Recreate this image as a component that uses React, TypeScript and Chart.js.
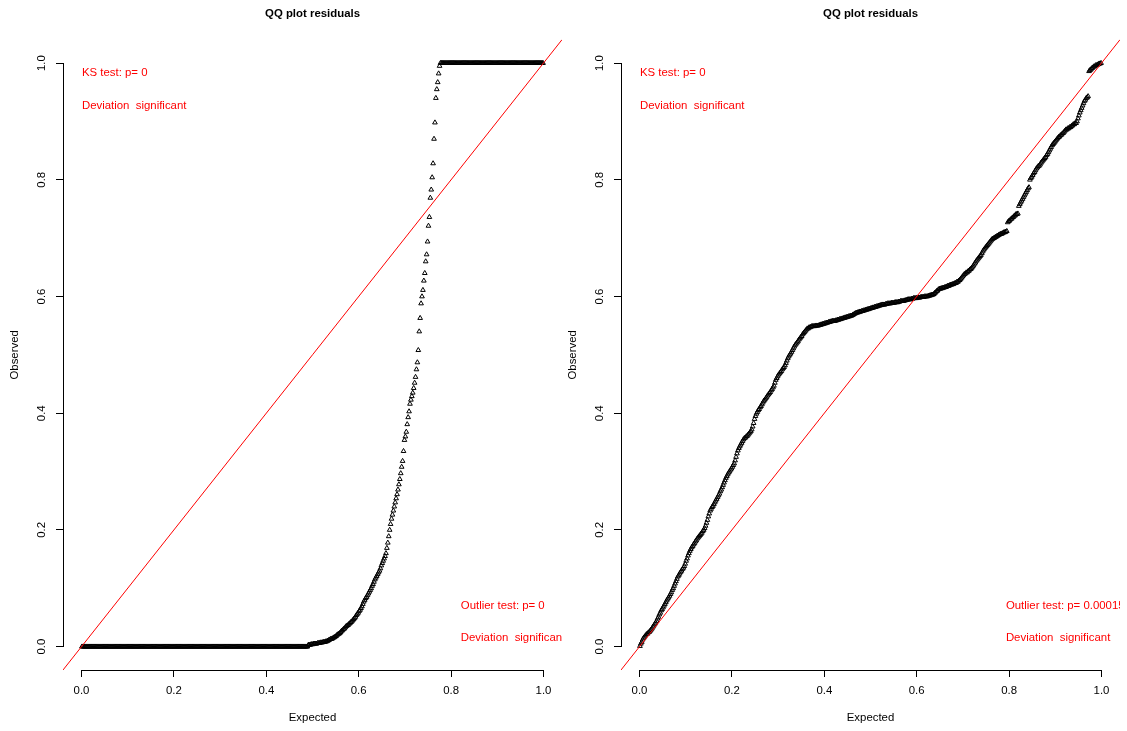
import React, { useEffect, useRef } from "react";
import { Chart, registerables } from "chart.js";

Chart.register(...registerables);

// ---- data -------------------------------------------------------------
const axisTicks = [0, 0.2, 0.4, 0.6, 0.8, 1];
const tickLabels = ["0.0", "0.2", "0.4", "0.6", "0.8", "1.0"];
const identityLine = [-0.1, 1.1]; // abline(0, 1)

// sorted scaled residuals, left model (n = 500)
const leftObserved = [
  0, 0, 0, 0, 0, 0, 0, 0, 0, 0,
  0, 0, 0, 0, 0, 0, 0, 0, 0, 0,
  0, 0, 0, 0, 0, 0, 0, 0, 0, 0,
  0, 0, 0, 0, 0, 0, 0, 0, 0, 0,
  0, 0, 0, 0, 0, 0, 0, 0, 0, 0,
  0, 0, 0, 0, 0, 0, 0, 0, 0, 0,
  0, 0, 0, 0, 0, 0, 0, 0, 0, 0,
  0, 0, 0, 0, 0, 0, 0, 0, 0, 0,
  0, 0, 0, 0, 0, 0, 0, 0, 0, 0,
  0, 0, 0, 0, 0, 0, 0, 0, 0, 0,
  0, 0, 0, 0, 0, 0, 0, 0, 0, 0,
  0, 0, 0, 0, 0, 0, 0, 0, 0, 0,
  0, 0, 0, 0, 0, 0, 0, 0, 0, 0,
  0, 0, 0, 0, 0, 0, 0, 0, 0, 0,
  0, 0, 0, 0, 0, 0, 0, 0, 0, 0,
  0, 0, 0, 0, 0, 0, 0, 0, 0, 0,
  0, 0, 0, 0, 0, 0, 0, 0, 0, 0,
  0, 0, 0, 0, 0, 0, 0, 0, 0, 0,
  0, 0, 0, 0, 0, 0, 0, 0, 0, 0,
  0, 0, 0, 0, 0, 0, 0, 0, 0, 0,
  0, 0, 0, 0, 0, 0, 0, 0, 0, 0,
  0, 0, 0, 0, 0, 0, 0, 0, 0, 0,
  0, 0, 0, 0, 0, 0, 0, 0, 0, 0,
  0, 0, 0, 0, 0, 0, 0, 0, 0, 0,
  0, 0, 0, 0, 0,
  0.003, 0.003, 0.003, 0.004, 0.004, 0.004, 0.005, 0.005, 0.005, 0.005,
  0.006, 0.006, 0.006, 0.007, 0.007, 0.007, 0.008, 0.008, 0.008, 0.009,
  0.009, 0.010, 0.011, 0.012, 0.013, 0.013, 0.014, 0.015, 0.016, 0.017,
  0.018, 0.020, 0.021, 0.022, 0.023, 0.025, 0.027, 0.028, 0.030, 0.031,
  0.033, 0.035, 0.036, 0.037, 0.039, 0.040, 0.042, 0.043, 0.045, 0.047,
  0.049, 0.051, 0.054, 0.056, 0.058, 0.061, 0.063, 0.066, 0.069, 0.073,
  0.077, 0.080, 0.083, 0.085, 0.088, 0.091, 0.094, 0.097, 0.100, 0.104,
  0.107, 0.111, 0.115, 0.118, 0.121, 0.124, 0.127, 0.130, 0.134, 0.139,
  0.143, 0.147, 0.151, 0.155, 0.160, 0.169, 0.178, 0.189, 0.200, 0.210,
  0.219, 0.226, 0.233, 0.240, 0.247, 0.254, 0.261, 0.269, 0.278, 0.287,
  0.297, 0.308, 0.318, 0.335, 0.354, 0.360, 0.368, 0.381, 0.393, 0.403,
  0.416, 0.423, 0.429, 0.435, 0.443, 0.452, 0.462, 0.475, 0.487, 0.508,
  0.540, 0.563, 0.588, 0.600, 0.611, 0.627, 0.640, 0.660, 0.672, 0.694,
  0.721, 0.736, 0.769, 0.783, 0.804, 0.828, 0.870, 0.898, 0.940, 0.955,
  0.967, 0.982, 0.995,
  1, 1, 1, 1, 1, 1, 1, 1, 1, 1,
  1, 1, 1, 1, 1, 1, 1, 1, 1, 1,
  1, 1, 1, 1, 1, 1, 1, 1, 1, 1,
  1, 1, 1, 1, 1, 1, 1, 1, 1, 1,
  1, 1, 1, 1, 1, 1, 1, 1, 1, 1,
  1, 1, 1, 1, 1, 1, 1, 1, 1, 1,
  1, 1, 1, 1, 1, 1, 1, 1, 1, 1,
  1, 1, 1, 1, 1, 1, 1, 1, 1, 1,
  1, 1, 1, 1, 1, 1, 1, 1, 1, 1,
  1, 1, 1, 1, 1, 1, 1, 1, 1, 1,
  1, 1, 1, 1, 1, 1, 1, 1, 1, 1,
  1, 1,
];

// sorted scaled residuals, right model (n = 500)
const rightObserved = [
  0.001, 0.005, 0.008, 0.012, 0.015, 0.017, 0.019, 0.021, 0.022, 0.024,
  0.025, 0.027, 0.029, 0.031, 0.034, 0.036, 0.039, 0.041, 0.044, 0.048,
  0.051, 0.055, 0.058, 0.062, 0.064, 0.067, 0.070, 0.073, 0.076, 0.079,
  0.082, 0.084, 0.087, 0.090, 0.093, 0.097, 0.100, 0.104, 0.108, 0.112,
  0.116, 0.120, 0.122, 0.125, 0.128, 0.130, 0.133, 0.135, 0.138, 0.142,
  0.147, 0.151, 0.156, 0.160, 0.164, 0.167, 0.170, 0.172, 0.175, 0.177,
  0.180, 0.182, 0.185, 0.187, 0.189, 0.191, 0.193, 0.195, 0.198, 0.200,
  0.203, 0.207, 0.212, 0.217, 0.223, 0.228, 0.233, 0.236, 0.239, 0.241,
  0.244, 0.247, 0.250, 0.253, 0.256, 0.259, 0.262, 0.266, 0.269, 0.273,
  0.277, 0.281, 0.285, 0.289, 0.292, 0.295, 0.298, 0.300, 0.303, 0.305,
  0.308, 0.311, 0.314, 0.319, 0.325, 0.331, 0.336, 0.340, 0.343, 0.346,
  0.349, 0.352, 0.355, 0.357, 0.358, 0.360, 0.361, 0.363, 0.365, 0.367,
  0.369, 0.372, 0.377, 0.383, 0.390, 0.395, 0.399, 0.402, 0.405, 0.407,
  0.410, 0.412, 0.415, 0.418, 0.421, 0.423, 0.425, 0.427, 0.430, 0.432,
  0.434, 0.436, 0.439, 0.441, 0.444, 0.447, 0.452, 0.457, 0.460, 0.463,
  0.466, 0.468, 0.470, 0.472, 0.475, 0.477, 0.479, 0.482, 0.486, 0.490,
  0.494, 0.497, 0.500, 0.502, 0.505, 0.508, 0.511, 0.514, 0.517, 0.519,
  0.521, 0.523, 0.526, 0.528, 0.530, 0.532, 0.535, 0.537, 0.539, 0.541,
  0.543, 0.545, 0.545, 0.547, 0.547, 0.548, 0.549, 0.549, 0.549, 0.549,
  0.550, 0.550, 0.550, 0.550, 0.551, 0.551, 0.552, 0.552, 0.553, 0.553,
  0.554, 0.554, 0.555, 0.555, 0.556, 0.556, 0.557, 0.557, 0.558, 0.558,
  0.558, 0.558, 0.559, 0.559, 0.560, 0.560, 0.561, 0.561, 0.562, 0.562,
  0.563, 0.563, 0.564, 0.564, 0.565, 0.565, 0.566, 0.566, 0.567, 0.567,
  0.568, 0.569, 0.570, 0.571, 0.572, 0.572, 0.573, 0.573, 0.574, 0.574,
  0.575, 0.575, 0.576, 0.576, 0.577, 0.577, 0.578, 0.578, 0.579, 0.579,
  0.580, 0.580, 0.581, 0.581, 0.582, 0.582, 0.583, 0.583, 0.584, 0.584,
  0.585, 0.585, 0.586, 0.586, 0.586, 0.586, 0.587, 0.587, 0.588, 0.588,
  0.588, 0.588, 0.589, 0.589, 0.589, 0.589, 0.590, 0.590, 0.590, 0.590,
  0.591, 0.591, 0.592, 0.592, 0.592, 0.592, 0.593, 0.593, 0.594, 0.594,
  0.595, 0.595, 0.595, 0.595, 0.596, 0.596, 0.597, 0.597, 0.597, 0.597,
  0.598, 0.598, 0.598, 0.598, 0.599, 0.599, 0.599, 0.599, 0.600, 0.600,
  0.600, 0.600, 0.601, 0.601, 0.602, 0.602, 0.603, 0.603, 0.604, 0.606,
  0.607, 0.609, 0.610, 0.612, 0.613, 0.613, 0.614, 0.614, 0.615, 0.615,
  0.616, 0.616, 0.617, 0.618, 0.618, 0.619, 0.620, 0.620, 0.621, 0.621,
  0.622, 0.623, 0.623, 0.625, 0.625, 0.627, 0.628, 0.630, 0.632, 0.634,
  0.636, 0.638, 0.639, 0.641, 0.641, 0.643, 0.644, 0.646, 0.647, 0.649,
  0.651, 0.653, 0.656, 0.658, 0.661, 0.663, 0.665, 0.667, 0.669, 0.671,
  0.674, 0.677, 0.680, 0.682, 0.684, 0.686, 0.688, 0.690, 0.692, 0.694,
  0.696, 0.698, 0.699, 0.700, 0.701, 0.702, 0.703, 0.704, 0.705, 0.706,
  0.707, 0.707, 0.708, 0.709, 0.710, 0.710, 0.711, 0.712, 0.727, 0.729,
  0.730, 0.732, 0.733, 0.735, 0.736, 0.738, 0.739, 0.741, 0.741, 0.742,
  0.755, 0.758, 0.761, 0.764, 0.767, 0.770, 0.773, 0.776, 0.779, 0.782,
  0.785, 0.787, 0.800, 0.803, 0.805, 0.808, 0.811, 0.813, 0.816, 0.819,
  0.821, 0.823, 0.824, 0.826, 0.829, 0.831, 0.833, 0.835, 0.837, 0.839,
  0.842, 0.844, 0.847, 0.850, 0.853, 0.856, 0.859, 0.861, 0.863, 0.865,
  0.867, 0.869, 0.871, 0.873, 0.874, 0.876, 0.877, 0.879, 0.880, 0.882,
  0.884, 0.886, 0.886, 0.888, 0.888, 0.890, 0.890, 0.892, 0.893, 0.895,
  0.895, 0.897, 0.897, 0.900, 0.905, 0.910, 0.915, 0.919, 0.923, 0.927,
  0.931, 0.935, 0.937, 0.940, 0.941, 0.943, 0.986, 0.988, 0.989, 0.991,
  0.992, 0.994, 0.994, 0.996, 0.996, 0.997, 0.998, 0.999, 0.999, 1.000,
];

const plotTitle = "QQ plot residuals";
const xTitle = "Expected";
const yTitle = "Observed";
const leftKs = ["KS test: p= 0", "Deviation  significant"];
const leftOutlier = ["Outlier test: p= 0", "Deviation  significant"];
const rightKs = ["KS test: p= 0", "Deviation  significant"];
const rightOutlier = ["Outlier test: p= 0.00015", "Deviation  significant"];

// ---- styling ----------------------------------------------------------
const FONT = "'Liberation Sans', Arial, Helvetica, sans-serif";
const FS = 11.4;

const alignPx = (v: number) => Math.round(v - 0.5) + 0.5;

const rDecor = {
  id: "rdecor",
  afterDraw(chart: any, _args: any, opts: any) {
    const { ctx, chartArea: a, scales } = chart;
    const xs = scales.x;
    const ys = scales.y;
    ctx.save();
    // axis lines (R style: only between first and last tick)
    ctx.strokeStyle = "#000";
    ctx.lineWidth = 1;
    ctx.beginPath();
    const by = alignPx(a.bottom);
    ctx.moveTo(alignPx(xs.getPixelForValue(axisTicks[0])) - 0.5, by);
    ctx.lineTo(alignPx(xs.getPixelForValue(axisTicks[axisTicks.length - 1])) + 0.5, by);
    const lx = alignPx(a.left);
    ctx.moveTo(lx, alignPx(ys.getPixelForValue(axisTicks[0])) + 0.5);
    ctx.lineTo(lx, alignPx(ys.getPixelForValue(axisTicks[axisTicks.length - 1])) - 0.5);
    ctx.stroke();

    // main title
    ctx.fillStyle = "#000";
    ctx.font = `bold ${FS}px ${FONT}`;
    ctx.textAlign = "center";
    ctx.textBaseline = "middle";
    ctx.fillText(opts.title, (a.left + a.right) / 2, opts.titleY);

    // red test annotations, clipped to the plot region
    ctx.beginPath();
    ctx.rect(a.left, a.top, a.right - a.left, a.bottom - a.top);
    ctx.clip();
    ctx.fillStyle = "#FF0000";
    ctx.font = `${FS}px ${FONT}`;
    ctx.textAlign = "left";
    for (const t of opts.texts) {
      ctx.fillText(t.text, xs.getPixelForValue(t.x), ys.getPixelForValue(t.y));
    }
    ctx.restore();
  },
};

type Panel = {
  observed: number[];
  ks: string[];
  outlier: string[];
  outlierX: number;
  padRight: number;
};

const zeroPadding = (s: any) => {
  s.paddingLeft = 0;
  s.paddingRight = 0;
  s.paddingTop = 0;
  s.paddingBottom = 0;
};

function makeConfig(p: Panel): any {
  // uniform expected quantiles of a QQ plot (ppoints)
  const expected = p.observed.map((_, i) => (i + 0.5) / p.observed.length);
  const tickLabel = (v: number) => {
    const i = axisTicks.indexOf(v);
    return i >= 0 ? tickLabels[i] : "";
  };
  const texts = [
    { text: p.ks[0], x: 0.001, y: 0.983 },
    { text: p.ks[1], x: 0.001, y: 0.926 },
    { text: p.outlier[0], x: p.outlierX, y: 0.0697 },
    { text: p.outlier[1], x: p.outlierX, y: 0.0149 },
  ];
  return {
    type: "scatter",
    data: {
      datasets: [
        {
          label: "abline",
          showLine: true,
          data: identityLine.map((v) => ({ x: v, y: v })),
          borderColor: "#FF0000",
          borderWidth: 1,
          pointRadius: 0,
          order: 0,
        },
        {
          label: "residuals",
          data: p.observed.map((v, i) => ({ x: expected[i], y: v })),
          pointStyle: "triangle",
          pointRadius: 2.7,
          pointHoverRadius: 2.7,
          borderColor: "#000",
          backgroundColor: "rgba(0,0,0,0)",
          borderWidth: 1,
          order: 1,
        },
      ],
    },
    options: {
      animation: false,
      responsive: false,
      events: [],
      layout: { autoPadding: false, padding: { top: 39.7, right: p.padRight, bottom: 0, left: 0 } },
      plugins: {
        legend: { display: false },
        tooltip: { enabled: false },
        title: { display: false },
        rdecor: { title: plotTitle, titleY: 14.3, texts },
      },
      scales: {
        x: {
          type: "linear",
          position: "bottom",
          min: -0.04,
          max: 1.04,
          afterBuildTicks: (s: any) => {
            s.ticks = axisTicks.map((v) => ({ value: v }));
          },
          afterFit: (s: any) => {
            s.height = 61;
            zeroPadding(s);
          },
          ticks: {
            callback: (v: number) => tickLabel(v),
            font: { family: FONT, size: FS },
            color: "#000",
            padding: 6.7,
            minRotation: 0,
            maxRotation: 0,
            autoSkip: false,
          },
          grid: { drawOnChartArea: false, drawTicks: true, tickLength: 7, color: "#000", lineWidth: 1 },
          border: { display: false },
          title: {
            display: true,
            text: xTitle,
            font: { family: FONT, size: FS },
            color: "#000",
            padding: { top: 0, bottom: 6.2 },
          },
        },
        y: {
          type: "linear",
          position: "left",
          min: -0.04,
          max: 1.04,
          afterBuildTicks: (s: any) => {
            s.ticks = axisTicks.map((v) => ({ value: v }));
          },
          afterFit: (s: any) => {
            s.width = 63;
            zeroPadding(s);
          },
          ticks: {
            callback: (v: number) => tickLabel(v),
            font: { family: FONT, size: FS },
            color: "#000",
            padding: 6.1,
            minRotation: 90,
            maxRotation: 90,
            crossAlign: "center",
            autoSkip: false,
          },
          grid: { drawOnChartArea: false, drawTicks: true, tickLength: 7, color: "#000", lineWidth: 1 },
          border: { display: false },
          title: {
            display: true,
            text: yTitle,
            font: { family: FONT, size: FS },
            color: "#000",
            padding: { top: 8.2, bottom: 0 },
          },
        },
      },
    },
    plugins: [rDecor],
  };
}

function QQPanel(props: { panel: Panel; left: number; width: number }) {
  const ref = useRef<HTMLCanvasElement | null>(null);
  useEffect(() => {
    if (!ref.current) return;
    const chart = new Chart(ref.current, makeConfig(props.panel));
    return () => chart.destroy();
  }, []);
  return (
    <canvas
      ref={ref}
      width={props.width}
      height={731}
      style={{ position: "absolute", left: props.left, top: 0, width: props.width, height: 731 }}
    />
  );
}

const leftPanel: Panel = { observed: leftObserved, ks: leftKs, outlier: leftOutlier, outlierX: 0.821, padRight: 1 };
const rightPanel: Panel = { observed: rightObserved, ks: rightKs, outlier: rightOutlier, outlierX: 0.793, padRight: 7 };

export default function App() {
  return (
    <div style={{ position: "fixed", left: 0, top: 0, width: 1127, height: 731, background: "#fff", overflow: "hidden" }}>
      <QQPanel panel={leftPanel} left={0} width={563} />
      <QQPanel panel={rightPanel} left={558} width={569} />
    </div>
  );
}
